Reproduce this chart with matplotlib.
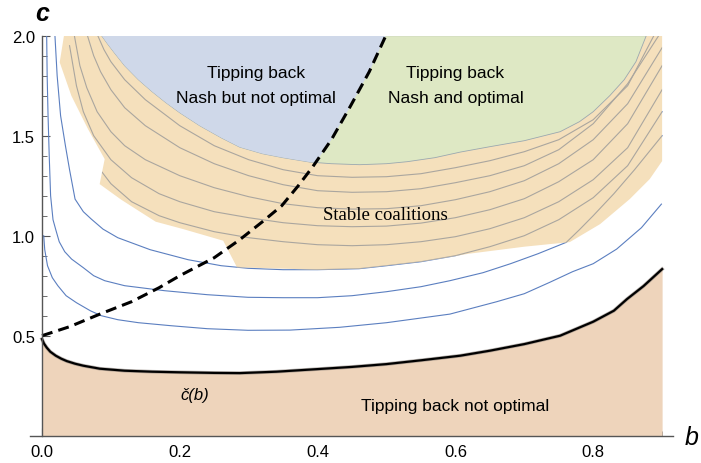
import numpy as np
import matplotlib.pyplot as plt
from matplotlib.patches import Polygon
from matplotlib.ticker import MultipleLocator, FormatStrFormatter

# lower boundary c-check(b)
cb_b = [0.0, 0.003, 0.007, 0.012, 0.02, 0.028, 0.036, 0.048, 0.06, 0.084, 0.12, 0.16, 0.2,
        0.25, 0.287, 0.34, 0.4, 0.45, 0.5, 0.55, 0.607, 0.65, 0.7, 0.752, 0.8, 0.83, 0.849,
        0.873, 0.9]
cb_c = [0.483, 0.46, 0.44, 0.42, 0.40, 0.385, 0.373, 0.36, 0.35, 0.335, 0.325, 0.32, 0.317,
        0.314, 0.313, 0.32, 0.333, 0.344, 0.358, 0.377, 0.40, 0.425, 0.458, 0.50, 0.57, 0.625,
        0.683, 0.748, 0.833]

# dashed Nash threshold
dash_b = [0.0, 0.04, 0.084, 0.13, 0.17, 0.2, 0.25, 0.287, 0.32, 0.348, 0.372, 0.393, 0.42,
          0.448, 0.475, 0.499]
dash_c = [0.5, 0.545, 0.608, 0.67, 0.74, 0.80, 0.89, 0.98, 1.07, 1.15, 1.25, 1.345, 1.48,
          1.65, 1.82, 2.0]

# optimal-tipping boundary (bottom of blue / green)
arc_b = [0.0866, 0.095, 0.105, 0.12, 0.14, 0.16, 0.18, 0.2, 0.229, 0.26, 0.287, 0.32, 0.35,
         0.389, 0.42, 0.461, 0.5, 0.53, 0.57, 0.607, 0.65, 0.7, 0.752, 0.78, 0.8, 0.824,
         0.845, 0.862, 0.877]
arc_c = [2.0, 1.96, 1.915, 1.85, 1.78, 1.72, 1.665, 1.615, 1.55, 1.49, 1.443, 1.41, 1.39,
         1.368, 1.36, 1.355, 1.36, 1.37, 1.39, 1.418, 1.445, 1.475, 1.52, 1.57, 1.62, 1.70,
         1.78, 1.87, 2.0]

# stable coalition region outline
st_b = [0.0319, 0.9, 0.9, 0.882, 0.853, 0.81, 0.766, 0.70, 0.62, 0.55, 0.46, 0.40, 0.283,
        0.263, 0.205, 0.165, 0.115, 0.0837, 0.091, 0.0668, 0.0426, 0.0257]
st_c = [2.0, 2.0, 1.373, 1.283, 1.183, 1.058, 0.968, 0.945, 0.91, 0.87, 0.835, 0.83, 0.842,
        0.975, 1.033, 1.07, 1.18, 1.258, 1.383, 1.533, 1.70, 1.867]

# level curves (blue in the white area, grey where they cross the stable region)
l1_b = [0.0025, 0.004, 0.008, 0.015, 0.023, 0.035, 0.05, 0.07, 0.086, 0.11, 0.14, 0.187,
        0.24, 0.299, 0.36, 0.432, 0.5, 0.592, 0.66, 0.70, 0.737, 0.77, 0.80, 0.834, 0.87, 0.899]
l1_c = [1.0, 0.93, 0.85, 0.79, 0.75, 0.70, 0.665, 0.625, 0.60, 0.58, 0.565, 0.55,
        0.535, 0.527, 0.528, 0.542, 0.565, 0.608, 0.67, 0.71, 0.767, 0.82, 0.86, 0.933, 1.04, 1.158]
l2_b = [0.0068, 0.0075, 0.0088, 0.0105, 0.0125, 0.016, 0.02, 0.025, 0.033, 0.043, 0.06,
        0.075, 0.091, 0.12, 0.178, 0.24, 0.299, 0.35, 0.4, 0.45, 0.5, 0.55, 0.592, 0.64,
        0.68, 0.72, 0.761, 0.78, 0.8, 0.83, 0.86, 0.9]
l2_c = [2.0, 1.8, 1.6, 1.4, 1.2, 1.08, 1.03, 0.97, 0.92, 0.883, 0.84, 0.80, 0.775, 0.75,
        0.725, 0.705, 0.692, 0.69, 0.69, 0.70, 0.72, 0.745, 0.775, 0.815, 0.86, 0.91, 0.967,
        1.03, 1.10, 1.21, 1.33, 1.50]
l3_b = [0.0188, 0.022, 0.027, 0.034, 0.04, 0.048, 0.06, 0.0716, 0.0885, 0.11, 0.157,
        0.212, 0.26, 0.299, 0.35, 0.4, 0.46, 0.5, 0.55, 0.6, 0.65, 0.7, 0.75, 0.8, 0.85, 0.9]
l3_c = [2.0, 1.8, 1.6, 1.45, 1.33, 1.183, 1.12, 1.083, 1.033, 0.99, 0.93,
        0.88, 0.85, 0.837, 0.83, 0.83, 0.835, 0.85, 0.87, 0.90, 0.945, 1.00, 1.08, 1.19,
        1.35, 1.62]

# level curves inside the stable region
g5_b = [0.081, 0.09, 0.1, 0.12, 0.15, 0.2, 0.25, 0.3, 0.35, 0.4, 0.45, 0.5, 0.55, 0.6,
        0.65, 0.7, 0.75, 0.8, 0.85, 0.888]
g5_c = [2.0, 1.93, 1.87, 1.78, 1.68, 1.55, 1.45, 1.38, 1.33, 1.30, 1.292, 1.295, 1.31,
        1.34, 1.375, 1.42, 1.48, 1.58, 1.75, 2.0]
g4_b = [0.066, 0.075, 0.085, 0.1, 0.12, 0.15, 0.2, 0.25, 0.3, 0.35, 0.4, 0.45, 0.5, 0.55,
        0.6, 0.65, 0.7, 0.75, 0.8, 0.85, 0.895]
g4_c = [2.0, 1.90, 1.82, 1.73, 1.64, 1.55, 1.44, 1.36, 1.30, 1.255, 1.225, 1.217, 1.22,
        1.235, 1.265, 1.30, 1.35, 1.43, 1.56, 1.76, 2.0]
g3_b = [0.047, 0.055, 0.065, 0.08, 0.1, 0.12, 0.15, 0.2, 0.25, 0.3, 0.35, 0.4, 0.45, 0.5,
        0.55, 0.6, 0.65, 0.7, 0.75, 0.8, 0.85, 0.9]
g3_c = [2.0, 1.85, 1.74, 1.62, 1.52, 1.45, 1.38, 1.30, 1.24, 1.195, 1.16, 1.14, 1.133,
        1.135, 1.15, 1.18, 1.22, 1.275, 1.36, 1.48, 1.66, 1.94]
g2_b = [0.04, 0.05, 0.06, 0.075, 0.1, 0.13, 0.17, 0.2, 0.25, 0.3, 0.35, 0.4, 0.45, 0.5,
        0.55, 0.6, 0.65, 0.7, 0.75, 0.8, 0.85, 0.9]
g2_c = [1.95, 1.75, 1.62, 1.50, 1.38, 1.29, 1.21, 1.17, 1.12, 1.09, 1.065, 1.05, 1.045,
        1.048, 1.063, 1.09, 1.13, 1.185, 1.27, 1.38, 1.56, 1.85]
g1_b = [0.06, 0.08, 0.1, 0.13, 0.17, 0.2, 0.25, 0.3, 0.35, 0.4, 0.45, 0.5, 0.55, 0.6,
        0.65, 0.7, 0.75, 0.8, 0.85, 0.9]
g1_c = [1.50, 1.35, 1.26, 1.17, 1.10, 1.065, 1.02, 0.99, 0.97, 0.955, 0.95, 0.955, 0.97,
        0.995, 1.035, 1.09, 1.17, 1.28, 1.44, 1.73]

fig = plt.figure(figsize=(7.01, 4.64), dpi=100)
ax = fig.add_axes([30 / 701, (464 - 436.7) / 464, 643 / 701, 400 / 464])
ax.set_xlim(-0.0174, 0.9158)
ax.set_ylim(0, 2.0)

blue_line = '#5b7fc0'
for xs, ys in [(l1_b, l1_c), (l2_b, l2_c), (l3_b, l3_c)]:
    ax.plot(xs, ys, color=blue_line, lw=0.8, zorder=2)

stable = Polygon(np.column_stack([st_b, st_c]), closed=True, facecolor='#f5e0bc',
                 edgecolor='none', zorder=3)
ax.add_patch(stable)
grey = [(l2_b, l2_c), (l3_b, l3_c), (g1_b, g1_c), (g2_b, g2_c), (g3_b, g3_c),
        (g4_b, g4_c), (g5_b, g5_c)]
for xs, ys in grey:
    ln, = ax.plot(xs, ys, color='#aaa69f', lw=0.8, zorder=4)
    ln.set_clip_path(stable)

top = Polygon(np.column_stack([arc_b, arc_c]), closed=True, facecolor='#dee8c4',
              edgecolor='#9aa8b0', lw=0.6, zorder=5)
ax.add_patch(top)
left = ax.fill(list(dash_b) + [0.0], list(dash_c) + [2.0], color='#cfd8e9', lw=0, zorder=6)[0]
left.set_clip_path(top)

ax.fill_between(cb_b, 0, cb_c, color='#eed4bb', lw=0, zorder=7)
ax.plot(cb_b, cb_c, color='#8a8078', lw=2.6, zorder=8, alpha=0.6)
ax.plot(cb_b, cb_c, color='black', lw=1.6, zorder=9)
ax.plot(dash_b, dash_c, color='black', lw=2.2, dashes=(3.6, 2.0), zorder=10)

fs = 12.5
txt = dict(family='Liberation Sans', fontsize=fs, ha='center', va='center', zorder=11)
ax.text(0.31, 1.817, 'Tipping back', **txt)
ax.text(0.31, 1.692, 'Nash but not optimal', **txt)
ax.text(0.600, 1.817, 'Tipping back', **txt)
ax.text(0.600, 1.692, 'Nash and optimal', **txt)
ax.text(0.600, 0.15, 'Tipping back not optimal', **txt)
ax.text(0.499, 1.108, 'Stable coalitions', family='Liberation Serif', fontsize=13.5,
        ha='center', va='center', zorder=11)
ax.text(0.222, 0.208, 'č(b)', family='Liberation Sans', style='italic', fontsize=12,
        ha='center', va='center', zorder=11)

fig.text(42 / 701, 1 - 14 / 464, 'c', family='Liberation Sans', fontsize=18,
         style='italic', weight='bold', ha='center', va='center')
fig.text(692 / 701, 1 - 438 / 464, 'b', family='Liberation Sans', fontsize=18,
         style='italic', ha='center', va='center')

for s in ['top', 'right']:
    ax.spines[s].set_visible(False)
ax.spines['left'].set_position(('data', 0))
ax.spines['left'].set_bounds(0, 2.0)
for s in ['left', 'bottom']:
    ax.spines[s].set_color('#555555')
    ax.spines[s].set_linewidth(1.0)
    ax.spines[s].set_zorder(12)

ax.set_xticks([0, 0.2, 0.4, 0.6, 0.8])
ax.xaxis.set_minor_locator(MultipleLocator(0.05))
ax.set_yticks([0.5, 1.0, 1.5, 2.0])
ax.yaxis.set_minor_locator(MultipleLocator(0.1))
ax.xaxis.set_major_formatter(FormatStrFormatter('%.1f'))
ax.yaxis.set_major_formatter(FormatStrFormatter('%.1f'))
ax.tick_params(which='both', direction='in', color='#555555', labelsize=12)
ax.tick_params(which='major', length=6)
ax.tick_params(which='minor', length=3.5)
for lab in ax.get_xticklabels() + ax.get_yticklabels():
    lab.set_family('Liberation Sans')
ax.tick_params(axis='x', pad=6)
ax.tick_params(axis='y', pad=5)

fig.savefig('out.png', dpi=100)
